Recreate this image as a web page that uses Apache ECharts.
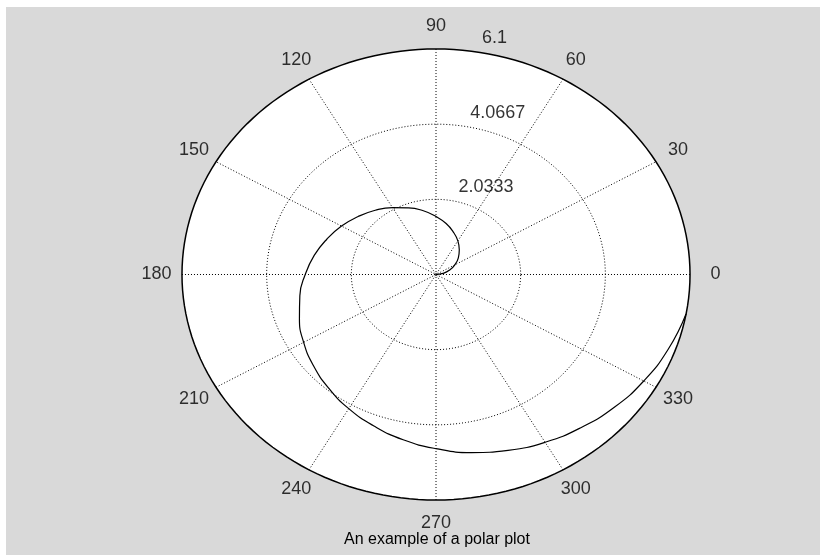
<!DOCTYPE html>
<html>
<head>
<meta charset="utf-8">
<script src="https://cdn.jsdelivr.net/npm/echarts@6/dist/echarts.min.js"></script>
<style>
html,body{margin:0;padding:0;background:#fff;}
#chart{width:820px;height:555px;}
</style>
</head>
<body>
<div id="chart"></div>
<script>
// ---- data ----
const angleTicks = [0, 30, 60, 90, 120, 150, 180, 210, 240, 270, 300, 330];
const angleTickLabels = ['0', '30', '60', '90', '120', '150', '180', '210', '240', '270', '300', '330'];
const radialTicks = [2.0333, 4.0667, 6.1];
const radialTickLabels = ['2.0333', '4.0667', '6.1'];
const spiralThetaDeg = [0, 10, 20, 30, 40, 50, 60, 70, 80, 90, 100, 110, 120, 130, 140, 150, 160, 170,
  180, 190, 200, 210, 220, 230, 240, 250, 260, 270, 280, 290, 300, 310, 320, 330, 340, 350];
const spiralR = [0, 0.17, 0.35, 0.52, 0.70, 0.87, 1.05, 1.22, 1.40, 1.57, 1.75, 1.92, 2.09, 2.27, 2.44, 2.62, 2.79, 2.97,
  3.14, 3.32, 3.49, 3.67, 3.84, 4.01, 4.19, 4.36, 4.54, 4.71, 4.89, 5.06, 5.24, 5.41, 5.59, 5.76, 5.93, 6.10];
const chartTitle = 'An example of a polar plot';

// ---- helpers ----
const FONT = '"Liberation Sans", Arial, Helvetica, sans-serif';
const rad = d => d * Math.PI / 180;
const rmax = radialTicks[radialTicks.length - 1];
const rinc = radialTicks[0];
function circle(r) {
  const pts = [];
  for (let d = 0; d <= 360; d += 2) pts.push([r * Math.cos(rad(d)), r * Math.sin(rad(d))]);
  return pts;
}
const dotted = {color: '#000', width: 1, type: [1, 2]};

const series = [];
// white face of the polar axes
series.push({
  type: 'custom',
  z: 1,
  silent: true,
  data: [[0, 0]],
  renderItem: function (params, api) {
    const pts = circle(rmax).map(p => api.coord(p));
    return {type: 'polygon', shape: {points: pts}, style: {fill: '#fff', stroke: null}};
  }
});
// dotted range circles (inner)
radialTicks.slice(0, -1).forEach(r => {
  series.push({type: 'line', z: 2, silent: true, symbol: 'none', data: circle(r), lineStyle: dotted});
});
// dotted spokes
angleTicks.filter(a => a < 180).forEach(a => {
  series.push({type: 'line', z: 2, silent: true, symbol: 'none',
    data: [[-rmax * Math.cos(rad(a)), -rmax * Math.sin(rad(a))], [rmax * Math.cos(rad(a)), rmax * Math.sin(rad(a))]],
    lineStyle: dotted});
});
// outer solid circle
series.push({type: 'line', z: 3, silent: true, symbol: 'none', data: circle(rmax),
  lineStyle: {color: '#000', width: 1.5, type: 'solid'}});
// spiral
series.push({type: 'line', z: 4, silent: true, symbol: 'none', smooth: true,
  data: spiralThetaDeg.map((d, i) => [spiralR[i] * Math.cos(rad(d)), spiralR[i] * Math.sin(rad(d))]),
  lineStyle: {color: '#000', width: 1.2}});
// angle labels
series.push({type: 'scatter', z: 5, silent: true, symbolSize: 0,
  data: angleTicks.map((a, i) => [1.1 * rmax * Math.cos(rad(a)), 1.1 * rmax * Math.sin(rad(a)), angleTickLabels[i]]),
  label: {show: true, position: 'inside', formatter: p => p.data[2], color: '#000', fontSize: 18, fontFamily: FONT}});
// radial tick labels
series.push({type: 'scatter', z: 5, silent: true, symbolSize: 0,
  data: radialTicks.map((r, i) => [(r + rinc / 20) * Math.cos(rad(82)), (r + rinc / 20) * Math.sin(rad(82)), radialTickLabels[i]]),
  label: {show: true, position: 'inside', align: 'left', verticalAlign: 'bottom',
    formatter: p => '  ' + p.data[2], color: '#000', fontSize: 18, fontFamily: FONT}});

const chart = echarts.init(document.getElementById('chart'), null, {renderer: 'canvas'});
chart.setOption({
  animation: false,
  backgroundColor: '#fff',
  graphic: [
    {type: 'rect', z: -10, silent: true, shape: {x: 6, y: 7, width: 814, height: 548}, style: {fill: '#d9d9d9'}},
    {type: 'text', z: 10, silent: true, style: {text: chartTitle, x: 437, y: 540, textAlign: 'center', textVerticalAlign: 'middle',
      fill: '#000', fontSize: 16, fontFamily: FONT}}
  ],
  grid: {left: 144.5, top: 15.7, width: 583, height: 517.6, containLabel: false, show: false},
  xAxis: {type: 'value', min: -7, max: 7, show: false, splitLine: {show: false}},
  yAxis: {type: 'value', min: -7, max: 7, show: false, splitLine: {show: false}},
  tooltip: {show: false},
  series: series
});
</script>
</body>
</html>
